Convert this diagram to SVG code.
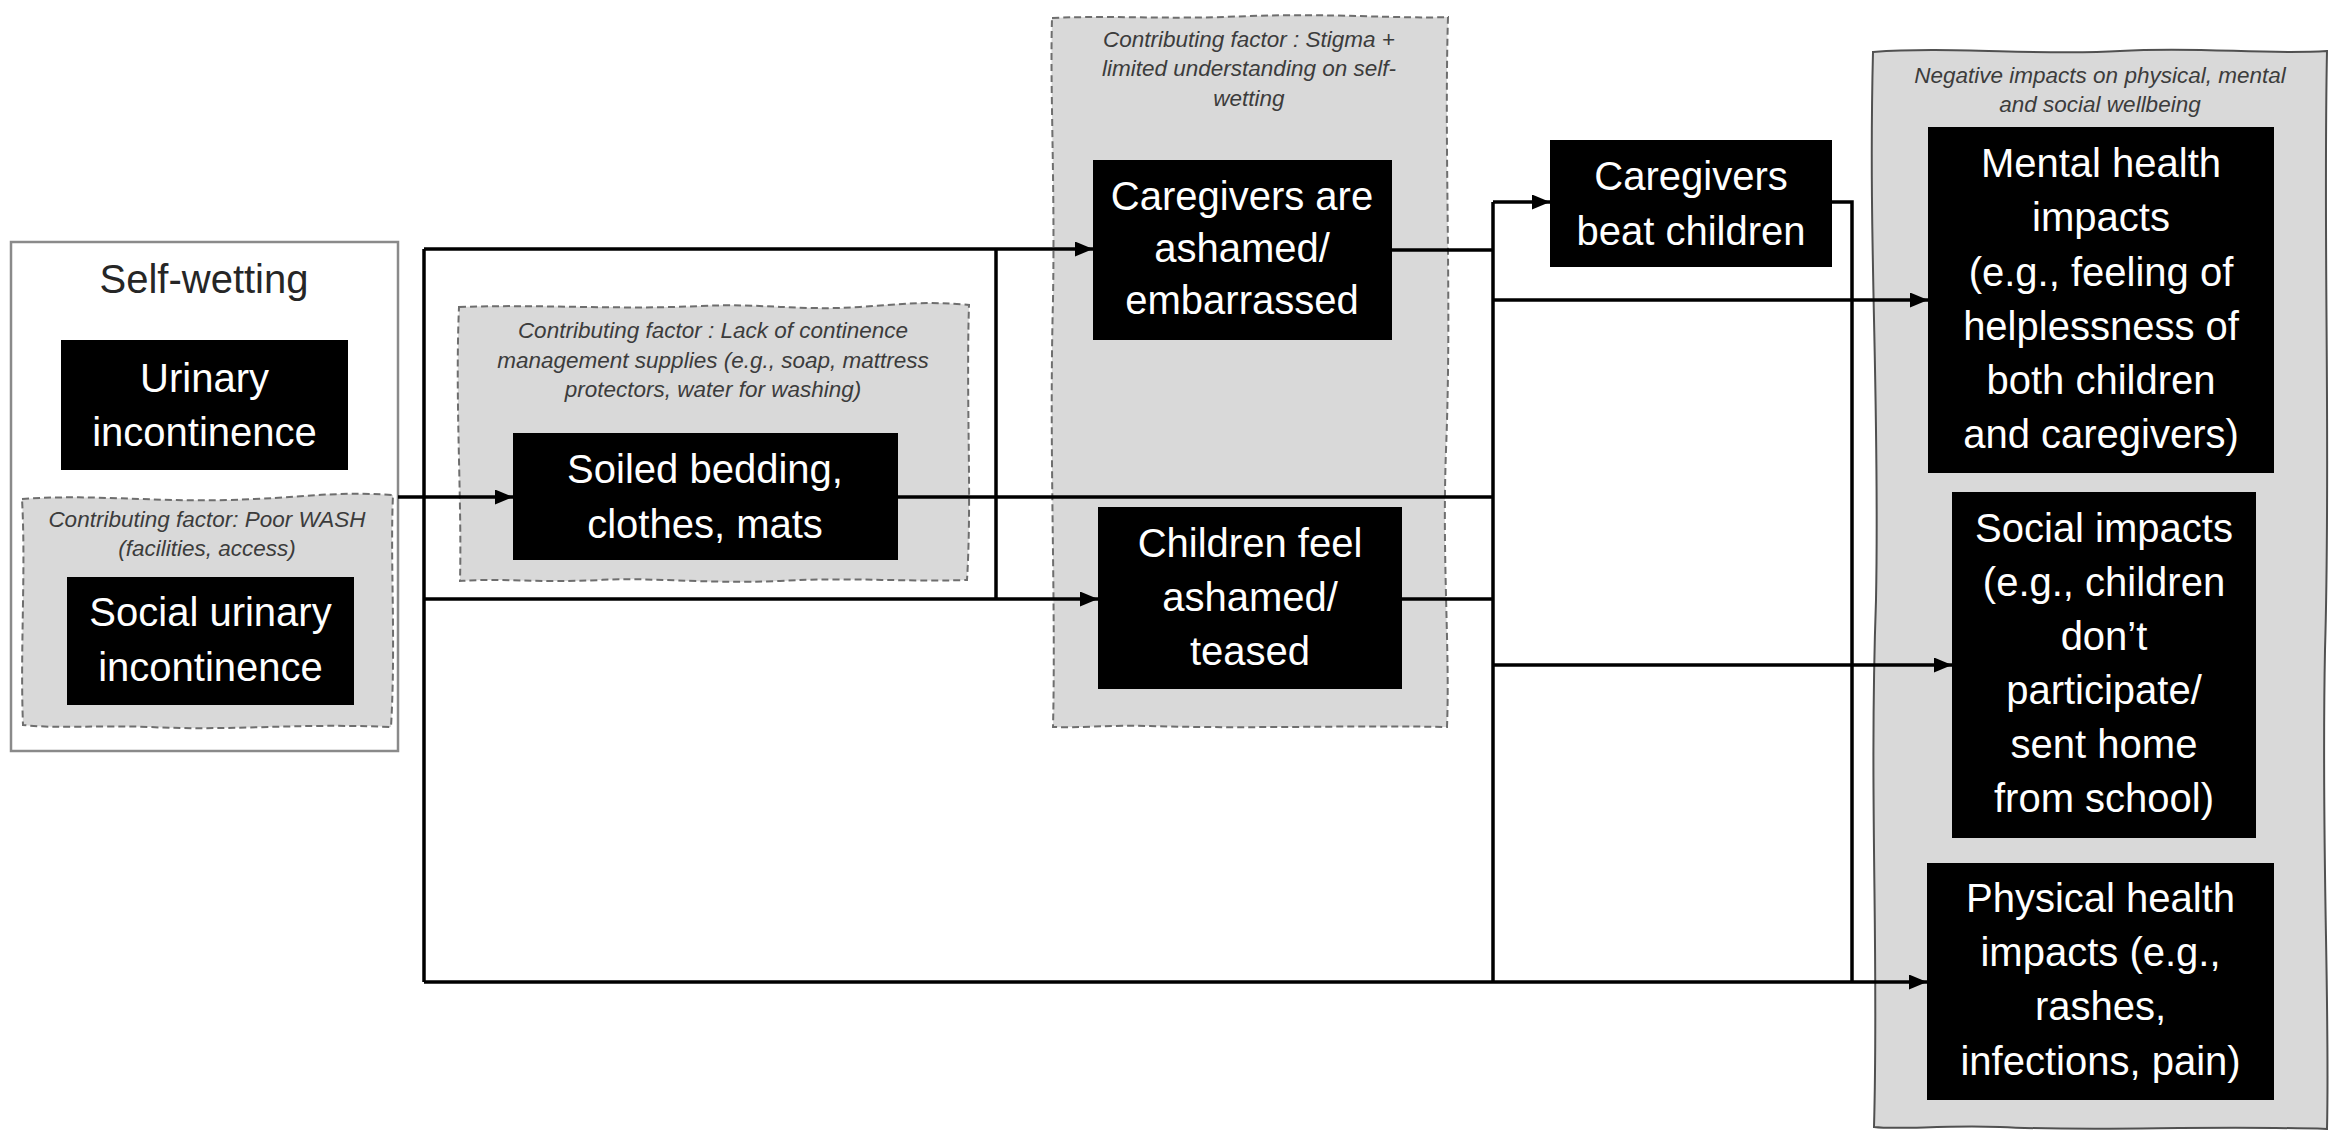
<svg xmlns="http://www.w3.org/2000/svg" width="2329" height="1132" viewBox="0 0 2329 1132">
<defs>
<marker id="arr" markerUnits="userSpaceOnUse" markerWidth="18" markerHeight="15" refX="18" refY="7.5" orient="auto">
<path d="M0,0 L18,7.5 L0,15 z" fill="#000"/>
</marker>
</defs>
<style>
.bg{fill:#ffffff}
.node{fill:#000}
.nt{font-family:"Liberation Sans",Arial,sans-serif;font-size:40px;fill:#fff;text-anchor:middle}
.note{font-family:"Liberation Sans",Arial,sans-serif;font-size:22.5px;font-style:italic;fill:#3c3c3c;text-anchor:middle}
.grp{fill:#d9d9d9;stroke:#6e6e6e;stroke-width:2;stroke-dasharray:7 4}
.wave{fill:#d9d9d9;stroke:#505050;stroke-width:2}
.outer{fill:#fff;stroke:#8a8a8a;stroke-width:2.5}
.title{font-family:"Liberation Sans",Arial,sans-serif;font-size:40px;fill:#262626;text-anchor:middle}
.ln{fill:none;stroke:#000;stroke-width:3.5}
.la{fill:none;stroke:#000;stroke-width:3.5;marker-end:url(#arr)}
</style>
<rect class="bg" x="0" y="0" width="2329" height="1132"/>

<!-- containers -->
<g id="self-wetting">
<rect class="outer" x="11" y="242" width="387" height="509"/>
<text class="title" x="204" y="293">Self-wetting</text>
</g>
<g id="factor-wash">
<path class="grp" d="M22,499 C90,494 150,502 230,500 C300,498 330,491 393,495 C390,560 396,640 391,727 C300,723 230,731 150,727 C100,725 60,729 23,725 C20,650 26,570 22,499 Z"/>
<text class="note" x="207" y="527">Contributing factor: Poor WASH</text>
<text class="note" x="207" y="556">(facilities, access)</text>
</g>
<g id="factor-supplies">
<path class="grp" d="M459,307 C540,304 620,310 700,306 C760,303 800,311 860,307 C900,304 930,301 969,305 C966,400 972,500 967,580 C900,582 850,577 780,581 C700,584 650,577 600,580 C540,583 500,578 460,581 C462,500 455,400 459,307 Z"/>
<text class="note" x="713" y="338">Contributing factor : Lack of continence</text>
<text class="note" x="713" y="368">management supplies (e.g., soap, mattress</text>
<text class="note" x="713" y="397">protectors, water for washing)</text>
</g>
<g id="factor-stigma">
<path class="grp" d="M1052,18 C1120,15 1160,20 1250,16 C1330,13 1400,19 1448,17 C1444,150 1452,300 1446,450 C1442,560 1450,650 1447,727 C1350,725 1250,729 1150,726 C1110,725 1080,728 1053,727 C1056,600 1049,450 1053,300 C1055,180 1050,90 1052,18 Z"/>
<text class="note" x="1249" y="47">Contributing factor : Stigma +</text>
<text class="note" x="1249" y="76">limited understanding on self-</text>
<text class="note" x="1249" y="106">wetting</text>
</g>
<g id="impacts">
<path class="wave" d="M1873,52 C1950,46 2040,56 2120,51 C2200,46 2260,55 2327,51 C2323,250 2331,450 2325,650 C2321,850 2330,1000 2327,1129 C2200,1125 2100,1132 2000,1127 C1940,1125 1900,1130 1874,1127 C1879,950 1869,800 1876,600 C1880,400 1868,250 1873,52 Z"/>
<text class="note" x="2100" y="83">Negative impacts on physical, mental</text>
<text class="note" x="2100" y="112">and social wellbeing</text>
</g>

<!-- connectors -->
<g id="connectors">
<path class="la" d="M398,497 H513"/>
<path class="ln" d="M424,249 V982"/>
<path class="la" d="M424,249 H1093"/>
<path class="la" d="M424,599 H1098"/>
<path class="la" d="M424,982 H1927"/>
<path class="ln" d="M996,249 V599"/>
<path class="ln" d="M898,497 H1493"/>
<path class="ln" d="M1493,202 V982"/>
<path class="ln" d="M1392,250 H1493"/>
<path class="la" d="M1493,202 H1550"/>
<path class="la" d="M1493,300 H1928"/>
<path class="ln" d="M1402,599 H1493"/>
<path class="la" d="M1493,665 H1952"/>
<path class="ln" d="M1832,202 H1852 V982"/>
</g>

<!-- nodes -->
<g id="urinary-incontinence">
<rect class="node" x="61" y="340" width="287" height="130"/>
<text class="nt" x="204.5" y="392">Urinary</text>
<text class="nt" x="204.5" y="446">incontinence</text>
</g>
<g id="social-urinary-incontinence">
<rect class="node" x="67" y="577" width="287" height="128"/>
<text class="nt" x="210.5" y="626">Social urinary</text>
<text class="nt" x="210.5" y="681">incontinence</text>
</g>
<g id="soiled-bedding">
<rect class="node" x="513" y="433" width="385" height="127"/>
<text class="nt" x="705" y="483">Soiled bedding,</text>
<text class="nt" x="705" y="538">clothes, mats</text>
</g>
<g id="caregivers-ashamed">
<rect class="node" x="1093" y="160" width="299" height="180"/>
<text class="nt" x="1242" y="210">Caregivers are</text>
<text class="nt" x="1242" y="262">ashamed/</text>
<text class="nt" x="1242" y="314">embarrassed</text>
</g>
<g id="children-ashamed">
<rect class="node" x="1098" y="507" width="304" height="182"/>
<text class="nt" x="1250" y="557">Children feel</text>
<text class="nt" x="1250" y="611">ashamed/</text>
<text class="nt" x="1250" y="665">teased</text>
</g>
<g id="caregivers-beat">
<rect class="node" x="1550" y="140" width="282" height="127"/>
<text class="nt" x="1691" y="190">Caregivers</text>
<text class="nt" x="1691" y="245">beat children</text>
</g>
<g id="mental-health">
<rect class="node" x="1928" y="127" width="346" height="346"/>
<text class="nt" x="2101" y="177">Mental health</text>
<text class="nt" x="2101" y="231">impacts</text>
<text class="nt" x="2101" y="286">(e.g., feeling of</text>
<text class="nt" x="2101" y="340">helplessness of</text>
<text class="nt" x="2101" y="394">both children</text>
<text class="nt" x="2101" y="448">and caregivers)</text>
</g>
<g id="social-impacts">
<rect class="node" x="1952" y="492" width="304" height="346"/>
<text class="nt" x="2104" y="542">Social impacts</text>
<text class="nt" x="2104" y="596">(e.g., children</text>
<text class="nt" x="2104" y="650">don’t</text>
<text class="nt" x="2104" y="704">participate/</text>
<text class="nt" x="2104" y="758">sent home</text>
<text class="nt" x="2104" y="812">from school)</text>
</g>
<g id="physical-health">
<rect class="node" x="1927" y="863" width="347" height="237"/>
<text class="nt" x="2100.5" y="912">Physical health</text>
<text class="nt" x="2100.5" y="966">impacts (e.g.,</text>
<text class="nt" x="2100.5" y="1020">rashes,</text>
<text class="nt" x="2100.5" y="1075">infections, pain)</text>
</g>
</svg>
